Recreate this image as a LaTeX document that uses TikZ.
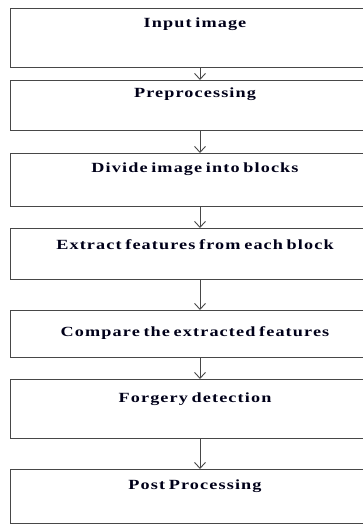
\documentclass[tikz,border=0pt]{standalone}
\usepackage{fontspec}
\usetikzlibrary{arrows.meta}
\newfontfamily\boxfont{Liberation Serif}[UprightFont={* Bold},FakeStretch=1.3,LetterSpace=8,WordSpace=0.65]
\begin{document}
\begin{tikzpicture}[x=1pt,y=-1pt,
  stepbox/.style={draw=black!72,line width=1.1pt,rectangle,inner sep=0pt,minimum width=370pt,anchor=north west},
  boxlabel/.style={font={\fontsize{14}{16}\boxfont},text=black!90!blue,inner sep=0pt},
  arr/.style={draw=black!72,line width=1pt,-{Straight Barb[length=6pt,width=11pt,line width=0.9pt]}}]
\useasboundingbox (0,0) rectangle (363,526);
\coordinate (ax) at (200,0);
\node[stepbox,minimum height=59pt] (b1) at (10,8) {};
\node[stepbox,minimum height=50pt] (b2) at (10,80) {};
\node[stepbox,minimum height=53pt] (b3) at (10,153) {};
\node[stepbox,minimum height=51pt] (b4) at (10,228) {};
\node[stepbox,minimum height=47pt] (b5) at (10,310) {};
\node[stepbox,minimum height=59pt] (b6) at (10,379) {};
\node[stepbox,minimum height=54pt] (b7) at (10,469) {};
\node[boxlabel] (t1) at (195,24) {Input image};
\node[boxlabel] (t2) at (195,94) {Preprocessing};
\node[boxlabel] (t3) at (195,169) {Divide image into blocks};
\node[boxlabel] (t4) at (195,245) {Extract features from each block};
\node[boxlabel] (t5) at (195,333) {Compare the extracted features};
\node[boxlabel] (t6) at (195,399) {Forgery detection};
\node[boxlabel] (t7) at (195,486) {Post Processing};
\draw[arr] (b1.south -| ax) -- (b2.north -| ax);
\draw[arr] (b2.south -| ax) -- (b3.north -| ax);
\draw[arr] (b3.south -| ax) -- (b4.north -| ax);
\draw[arr] (b4.south -| ax) -- (b5.north -| ax);
\draw[arr] (b5.south -| ax) -- (b6.north -| ax);
\draw[arr] (b6.south -| ax) -- (b7.north -| ax);
\end{tikzpicture}
\end{document}
